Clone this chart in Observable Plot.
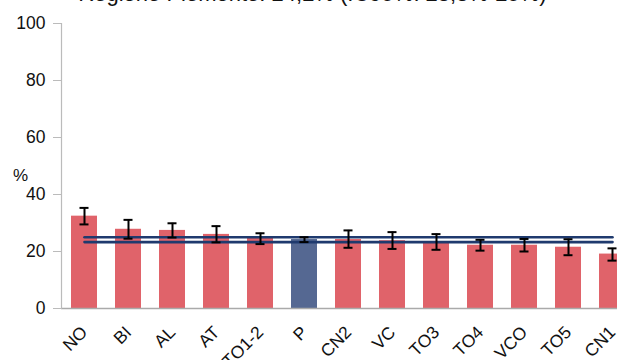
<!DOCTYPE html>
<html><head><meta charset="utf-8">
<script src="https://cdn.jsdelivr.net/npm/d3@7"></script>
<script src="https://cdn.jsdelivr.net/npm/@observablehq/plot@0.6"></script>
<style>
body{margin:0;background:#fff;font-family:"Liberation Sans",Arial,sans-serif;overflow:hidden;}
#wrap{position:relative;width:617px;height:360px;overflow:hidden;}
#chart svg{max-width:none !important;height:360px !important;}
#title{position:absolute;top:-17px;left:0;width:625px;text-align:center;font-size:22px;line-height:22px;color:#111;white-space:nowrap;}
#pct{position:absolute;left:13px;top:166px;font-size:17px;color:#111;}
</style></head><body>
<div id="wrap"><div id="chart"></div><div id="title">Regione Piemonte: 24,2% (IC95%: 23,3%-25%)</div><div id="pct">%</div></div>
<script>
const categories = ["NO","BI","AL","AT","TO1-2","P","CN2","VC","TO3","TO4","VCO","TO5","CN1"];
const values = [32.4, 27.8, 27.4, 26.0, 24.8, 24.2, 24.2, 23.8, 23.3, 22.2, 22.2, 21.5, 19.1];
const lower  = [29.5, 24.5, 24.9, 23.2, 22.6, 23.3, 21.3, 20.9, 20.6, 20.3, 20.0, 18.7, 16.8];
const upper  = [35.3, 31.1, 29.9, 28.9, 26.4, 25.0, 27.4, 26.8, 26.1, 24.1, 24.4, 24.3, 21.1];
const regionLow = 23.3, regionHigh = 25.0;
const yTicks = [0, 20, 40, 60, 80, 100];

const data = categories.map((c, i) => ({c, v: values[i], lo: lower[i], hi: upper[i], region: c === "P"}));
const refLines = [regionHigh, regionLow].flatMap((y, k) => categories.map(c => ({c, y, k})));

const chart = Plot.plot({
  width: 640, height: 360,
  marginLeft: 61, marginRight: 6, marginTop: 23, marginBottom: 52,
  style: {fontFamily: "Liberation Sans, Arial, sans-serif", color: "#111", background: "#fff"},
  x: {domain: categories, paddingInner: 0.41, paddingOuter: 0.205, label: null},
  y: {domain: [0, 100], label: null},
  marks: [
    Plot.barY(data, {x: "c", y: "v", fill: d => d.region ? "#556892" : "#E0636A"}),
    Plot.lineY(refLines, {x: "c", y: "y", z: "k", stroke: "#1F3A6E", strokeWidth: 2.6}),
    Plot.ruleX(data, {x: "c", y1: "lo", y2: "hi", stroke: "#000", strokeWidth: 2}),
    Plot.tickY(data, {x: "c", y: "lo", stroke: "#000", strokeWidth: 2, insetLeft: 8.5, insetRight: 8.5}),
    Plot.tickY(data, {x: "c", y: "hi", stroke: "#000", strokeWidth: 2, insetLeft: 8.5, insetRight: 8.5}),
    Plot.ruleY([0], {stroke: "#aaa", strokeWidth: 1.5}),
    Plot.frame({anchor: "left", stroke: "#bbb", strokeWidth: 1.2}),
    Plot.axisY({ticks: yTicks, tickSize: 8, tickPadding: 8, fontSize: 17.5, stroke: "#bbb", label: null}),
    Plot.axisX({tickSize: 0, tickRotate: -45, tickPadding: 21, fontSize: 17.5, label: null})
  ]
});
document.getElementById("chart").appendChild(chart);
</script>
</body></html>
